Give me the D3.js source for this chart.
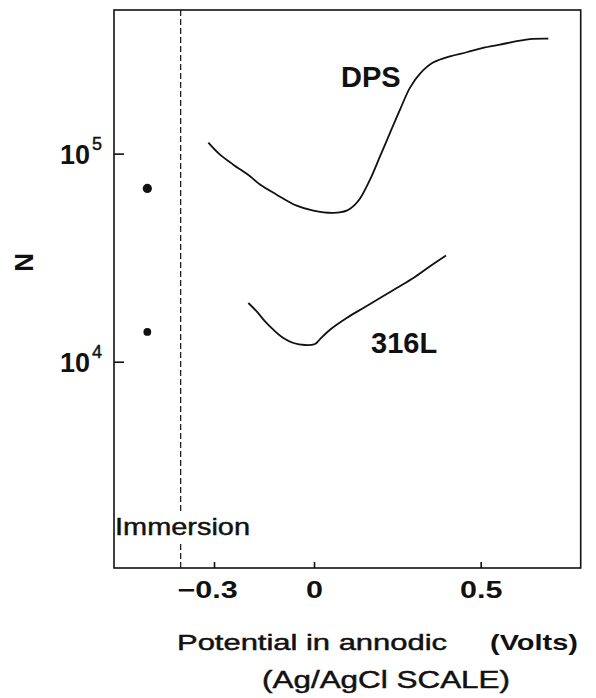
<!DOCTYPE html>
<html>
<head>
<meta charset="utf-8">
<script src="https://cdn.jsdelivr.net/npm/d3@7"></script>
<style>
    body { margin: 0; background: #fff; }
    svg { display: block; }
    text { font-family: "Liberation Sans", Arial, Helvetica, sans-serif; fill: #111; }
    text.plain { stroke: #111; stroke-width: 0.45px; }
</style>
</head>
<body>
<div id="chart"></div>
<script>
// DPS curve: potential (V) vs N
var dpsV = [-0.317, -0.282, -0.242, -0.192, -0.162, -0.112, -0.052, -0.002, 0.058, 0.098, 0.123, 0.138, 0.168,
            0.198, 0.228, 0.258, 0.288, 0.318, 0.357, 0.408, 0.458, 0.507, 0.558, 0.608, 0.657, 0.703];
var dpsN = [113000, 98900, 88500, 77800, 71000, 63500, 56200, 53200, 51900, 53200, 56900, 60800, 75000,
            97000, 125800, 162700, 207600, 242500, 273900, 293600, 307000, 322300, 334000, 346800, 355800, 357000];

// 316L curve
var sslV = [-0.197, -0.172, -0.147, -0.122, -0.092, -0.062, -0.027, 0.003, 0.018, 0.048, 0.098, 0.148,
            0.198, 0.248, 0.298, 0.348, 0.396];
var sslN = [19150, 17450, 15630, 14250, 13000, 12300, 12030, 12170, 12850, 14250, 16220, 18130,
            20230, 22600, 25250, 28720, 32350];

// values at immersion (DPS, 316L)
var immV = [-0.5, -0.5];
var immN = [68000, 13900];
var immersionV = -0.4;

var xTicks = [-0.3, 0, 0.5];
var yTicks = [1e4, 1e5];
var yTickExp = ["4", "5"];

createGraph();

function stretch(sel, k) {
    sel.each(function() {
        var w = this.getComputedTextLength();
        d3.select(this).attr("textLength", w * k).attr("lengthAdjust", "spacingAndGlyphs");
    });
}

function fit(sel, w) {
    sel.attr("textLength", w).attr("lengthAdjust", "spacingAndGlyphs");
}

function createGraph() {
    var frame_width  = 596,
        frame_height = 698;

    var svg = d3.select("#chart").append("svg")
        .attr("width", frame_width)
        .attr("height", frame_height);

    var x = d3.scaleLinear().domain([-0.6, 0.8]).range([114, 580.7]);
    var y = d3.scaleLog().domain([1020, 490000]).range([568, 10]);

    var line = d3.line()
        .x(function(d) { return x(d[0]); })
        .y(function(d) { return y(d[1]); })
        .curve(d3.curveCatmullRom.alpha(0.5));

    // frame
    svg.append("rect")
        .attr("x", x(-0.6))
        .attr("y", y(490000))
        .attr("width", x(0.8) - x(-0.6))
        .attr("height", y(1020) - y(490000))
        .attr("fill", "none")
        .attr("stroke", "#111")
        .attr("stroke-width", 1.6);

    // bottom axis
    var gx = svg.append("g")
        .attr("transform", "translate(0," + y(1020) + ")")
        .call(d3.axisBottom(x)
            .tickValues(xTicks)
            .tickSizeInner(-6)
            .tickSizeOuter(0)
            .tickPadding(13)
            .tickFormat(function(d) { return d === 0 ? "0" : d3.format(".1f")(d); }));
    gx.select(".domain").remove();
    gx.selectAll(".tick line").attr("stroke", "#111").attr("stroke-width", 1.6);
    gx.selectAll(".tick text")
        .attr("fill", "#111")
        .style("font-size", "24px")
        .style("font-weight", "bold")
        .call(stretch, 1.27);
    gx.selectAll(".tick text").filter(function(d) { return d < 0; }).attr("dx", -7);

    // left axis
    var gy = svg.append("g")
        .attr("transform", "translate(" + x(-0.6) + ",0)")
        .call(d3.axisLeft(y)
            .tickValues(yTicks)
            .tickSizeInner(-10)
            .tickSizeOuter(0)
            .tickFormat(""));
    gy.select(".domain").remove();
    gy.selectAll(".tick text").remove();
    gy.selectAll(".tick line").attr("stroke", "#111").attr("stroke-width", 1.6);
    gy.selectAll(".tick").each(function(d, i) {
        var t = d3.select(this);
        t.append("text")
            .attr("x", -24)
            .attr("y", 10)
            .attr("text-anchor", "end")
            .style("font-size", "27px")
            .style("font-weight", "bold")
            .text("10");
        t.append("text")
            .attr("class", "plain")
            .attr("x", -22)
            .attr("y", -4)
            .attr("text-anchor", "start")
            .style("font-size", "18px")
            .text(yTickExp[i]);
    });

    // y label
    svg.append("text")
        .attr("transform", "translate(33," + y(30000) + ") rotate(-90)")
        .attr("text-anchor", "middle")
        .style("font-size", "26px")
        .style("font-weight", "bold")
        .text("N");

    // immersion marker
    var imm = svg.append("text")
        .attr("class", "plain")
        .attr("x", x(-0.597))
        .attr("y", y(1470))
        .style("font-size", "24px")
        .text("Immersion");
    fit(imm, 135);
    var bb = imm.node().getBBox();

    svg.append("line")
        .attr("x1", x(immersionV)).attr("x2", x(immersionV))
        .attr("y1", y(490000)).attr("y2", bb.y - 2)
        .attr("stroke", "#111")
        .attr("stroke-width", 1.2)
        .attr("stroke-dasharray", "6,3");
    svg.append("line")
        .attr("x1", x(immersionV)).attr("x2", x(immersionV))
        .attr("y1", bb.y + bb.height + 4).attr("y2", y(1020))
        .attr("stroke", "#111")
        .attr("stroke-width", 1.2)
        .attr("stroke-dasharray", "6,3");

    // curves
    svg.append("path")
        .datum(d3.zip(dpsV, dpsN))
        .attr("fill", "none")
        .attr("stroke", "#111")
        .attr("stroke-width", 1.8)
        .attr("d", line);

    svg.append("path")
        .datum(d3.zip(sslV, sslN))
        .attr("fill", "none")
        .attr("stroke", "#111")
        .attr("stroke-width", 1.8)
        .attr("d", line);

    svg.selectAll("circle.imm")
        .data(d3.zip(immV, immN))
        .enter().append("circle")
        .attr("class", "imm")
        .attr("cx", function(d) { return x(d[0]); })
        .attr("cy", function(d) { return y(d[1]); })
        .attr("r", function(d, i) { return i === 0 ? 4.6 : 3.9; })
        .attr("fill", "#111");

    // curve labels
    svg.append("text")
        .attr("x", x(0.081))
        .attr("y", y(210000))
        .style("font-size", "29px")
        .style("font-weight", "bold")
        .text("DPS");

    svg.append("text")
        .attr("x", x(0.171))
        .attr("y", y(11000))
        .style("font-size", "29px")
        .style("font-weight", "bold")
        .text("316L");

    // x axis title
    var t1 = svg.append("text")
        .attr("class", "plain")
        .attr("x", 177)
        .attr("y", 650)
        .style("font-size", "22px")
        .text("Potential in annodic");
    fit(t1, 270);

    var t2 = svg.append("text")
        .attr("x", 490)
        .attr("y", 650)
        .style("font-size", "22px")
        .style("font-weight", "bold")
        .text("(Volts)");
    fit(t2, 88);

    var t3 = svg.append("text")
        .attr("class", "plain")
        .attr("x", 262)
        .attr("y", 688)
        .style("font-size", "23px")
        .text("(Ag/AgCl SCALE)");
    fit(t3, 248);
}
</script>
</body>
</html>
